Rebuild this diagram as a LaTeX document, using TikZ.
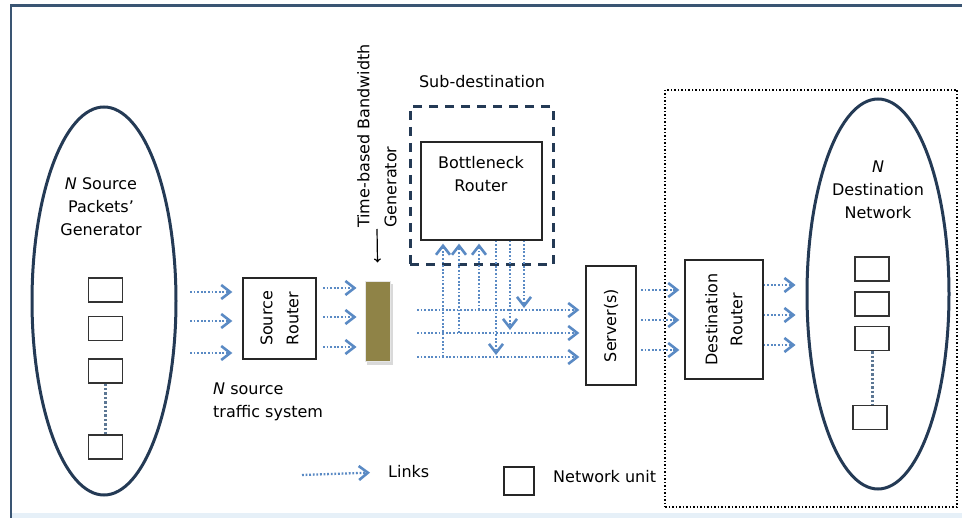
\documentclass[tikz,border=0pt]{standalone}
\usepackage{fontspec}
\setmainfont{DejaVu Sans}
\usetikzlibrary{arrows.meta,shapes.geometric,calc}
\definecolor{linkblue}{HTML}{5A8AC4}
\definecolor{navy}{HTML}{243A55}
\definecolor{frameblue}{HTML}{3A5573}
\definecolor{dotblue}{HTML}{5C7794}
\definecolor{olive}{HTML}{8F8347}
\definecolor{lightband}{HTML}{E6F0F8}
\tikzset{
  link/.style={draw=linkblue, line width=2.3pt, dash pattern=on 1.8pt off 1.8pt,
    -{Straight Barb[length=9pt,width=14pt,line width=2.6pt]}},
  unitbox/.style={draw=black!80, line width=1.3pt, minimum width=34pt, minimum height=24pt, inner sep=0pt},
  blockbox/.style={draw=black!85, line width=1.3pt, inner sep=0pt},
  oval/.style={ellipse, draw=navy, line width=3pt, inner sep=0pt},
  chain/.style={draw=dotblue, line width=3pt, dash pattern=on 2.4pt off 2pt},
  txt/.style={inner sep=0pt, font=\fontsize{16}{23}\selectfont}
}
\begin{document}
\begin{tikzpicture}[x=1pt,y=-1pt]
\useasboundingbox (0,0) rectangle (962,518);
% frame
\fill[lightband] (11,513) rectangle (962,518);
\draw[frameblue, line width=3pt] (10,6) -- (962,6);
\draw[frameblue, line width=2.5pt] (11,6) -- (11,518);

% destination region
\node[draw=black, line width=1.8pt, dash pattern=on 1.5pt off 2pt, minimum width=292pt, minimum height=417pt, inner sep=0pt] (destreg) at (811,298.5) {};

% left ellipse
\node[oval, minimum width=144pt, minimum height=388pt] (srcE) at (104,301) {};
\node[txt, align=center] (srcT) at (101,207) {\textit{N} Source\\Packets’\\Generator};
\node[unitbox] (s1) at (105.5,290) {};
\node[unitbox] (s2) at (105.5,328.5) {};
\node[unitbox] (s3) at (105.5,371) {};
\node[unitbox] (s4) at (105.5,447) {};
\draw[chain] (s3.south) -- (s4.north);

% source router
\node[blockbox, minimum width=73pt, minimum height=81pt] (srcR) at (279.5,318.5) {};
\node[txt, rotate=90, align=center, font=\fontsize{16}{26}\selectfont] at (srcR.center) {Source\\Router};
\foreach \y in {292,321,353} \draw[link, shorten >=10pt] (190,\y) -- (srcR.west |- 0,\y);
\node[txt, align=left, anchor=west] (trafT) at (213,401.5) {\textit{N} source\\traffic system};

% bandwidth generator
\fill[black!15] (367,284) rectangle (393,365);
\node[fill=olive, draw=black!10, line width=1pt, minimum width=25pt, minimum height=80pt, inner sep=0pt] (gen) at (377.5,322) {};
\foreach \y in {288,317,347} \draw[link, shorten >=8pt] (323,\y) -- (gen.west |- 0,\y);
\node[txt, rotate=90, align=left, anchor=north west, font=\fontsize{16}{27}\selectfont] (genT) at (357,228) {Time-based Bandwidth\\Generator};
\coordinate (genArr) at (377,229);
\draw[black, line width=1.2pt, -{To[length=4pt,width=7pt]}] (genArr) -- ([yshift=19pt]gen.north);

% sub-destination
\node[txt] (subT) at (482,82) {Sub-destination};
\node[draw=navy, line width=3pt, dash pattern=on 9pt off 7pt, minimum width=143pt, minimum height=158pt, inner sep=0pt] (subB) at (481.5,186) {};
\node[blockbox, minimum width=121pt, minimum height=98pt] (bneck) at (481.5,191) {};
\node[txt, align=center] (bneckT) at (481,174) {Bottleneck\\Router};

% server
\node[blockbox, minimum width=50pt, minimum height=119pt] (serv) at (611,325.5) {};
\node[txt, rotate=90] at (serv.center) {Server(s)};

% horizontal links through sub-destination area
\foreach \y in {310,333,357} \draw[link, shorten >=6pt] (417,\y) -- (serv.west |- 0,\y);
% up links
\draw[link, shorten >=3pt] (443,357) -- (bneck.south -| 443,0);
\draw[link, shorten >=3pt] (459,333) -- (bneck.south -| 459,0);
\draw[link, shorten >=3pt] (479,310) -- (bneck.south -| 479,0);
% down links
\draw[link] (bneck.south -| 496,0) -- (496,355);
\draw[link] (bneck.south -| 510,0) -- (510,330);
\draw[link] (bneck.south -| 524,0) -- (524,308);

% destination router
\node[blockbox, minimum width=78pt, minimum height=119pt] (dstR) at (724,319.5) {};
\node[txt, rotate=90, align=center, font=\fontsize{16}{25}\selectfont] at (dstR.center) {Destination\\Router};
\foreach \y in {290,320,350} \draw[link, shorten >=5pt] (641,\y) -- (dstR.west |- 0,\y);

% right ellipse
\node[oval, minimum width=142pt, minimum height=390pt] (dstE) at (878,294) {};
\node[txt, align=center] (dstT) at (878,190) {\textit{N}\\Destination\\Network};
\node[unitbox] (d1) at (872,269) {};
\node[unitbox] (d2) at (872,304) {};
\node[unitbox] (d3) at (872,338.5) {};
\node[unitbox] (d4) at (870,417.5) {};
\draw[chain] (d3.south) -- ([xshift=2pt]d4.north);
\foreach \y in {285,315,345} \draw[link, shorten >=10pt] (dstR.east |- 0,\y) -- (dstE.west |- 0,\y);

% legend
\coordinate (legA) at (302,475);
\node[txt, anchor=west] (linksT) at (388,472) {Links};
\draw[link, shorten >=18pt] (legA) -- (linksT.west);
\node[draw=black!85, line width=1.3pt, minimum width=30pt, minimum height=28pt, inner sep=0pt] (legU) at (519,481) {};
\node[txt, anchor=west] (unitT) at (553,477) {Network unit};
\end{tikzpicture}
\end{document}
